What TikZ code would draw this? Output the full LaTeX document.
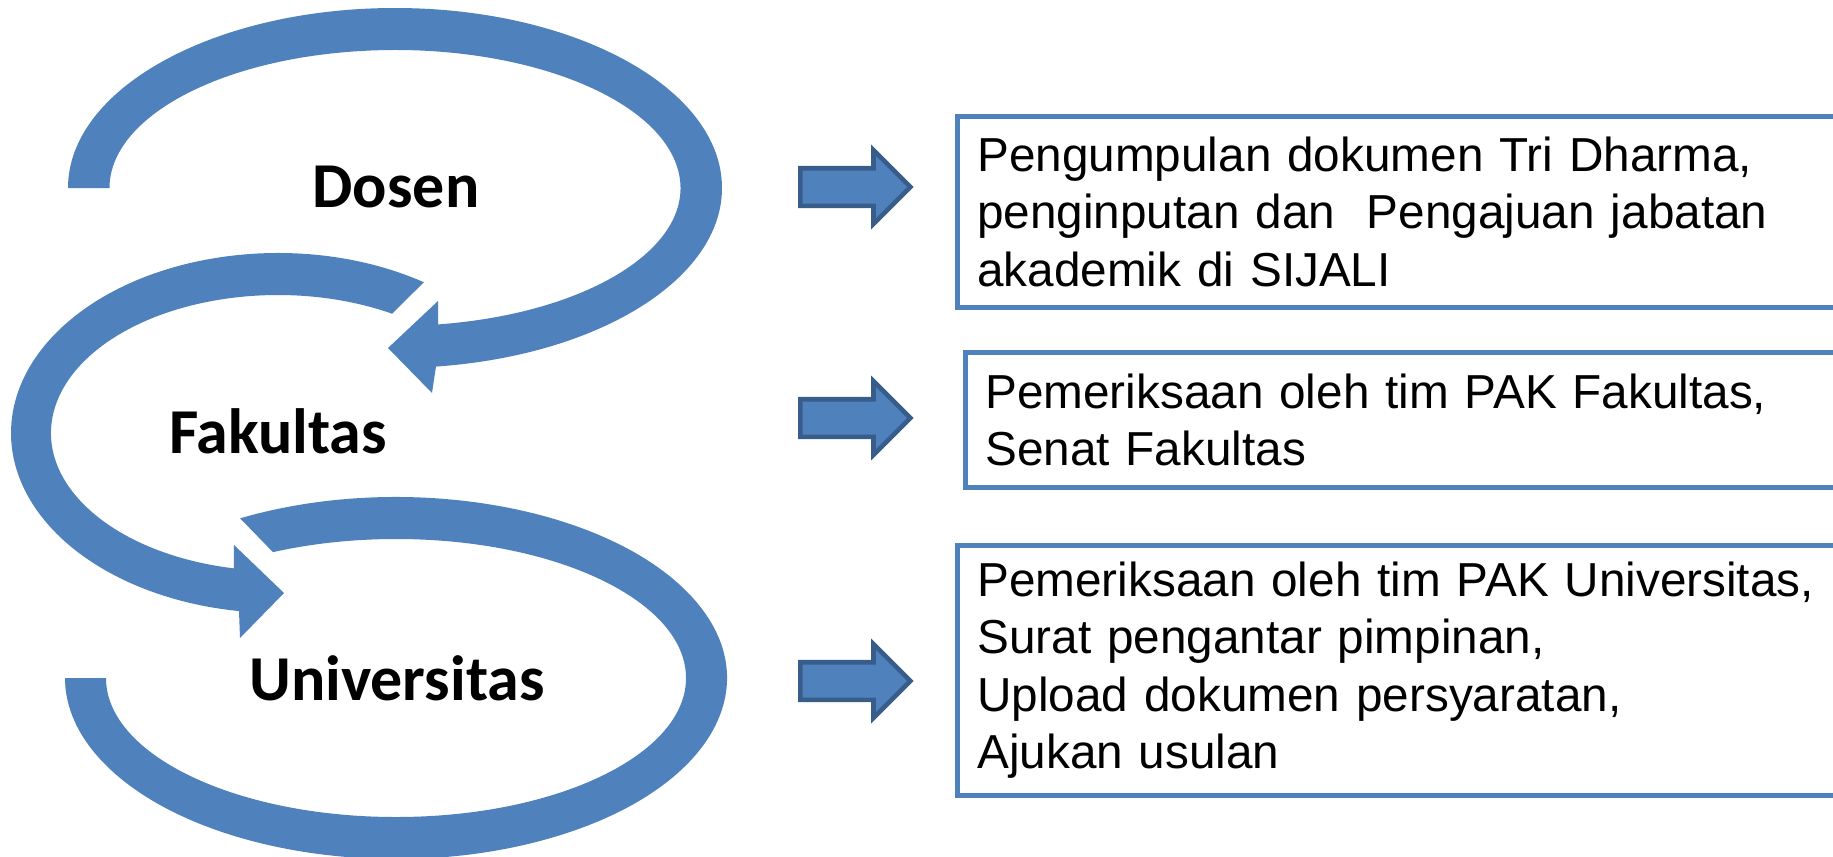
\documentclass[tikz,border=0pt]{standalone}
\usepackage{fontspec}
\setmainfont{Liberation Sans}
\newfontfamily\lblfont{Carlito}
\definecolor{blue1}{RGB}{79, 129, 189}
\definecolor{blue2}{RGB}{56, 93, 138}
\usetikzlibrary{shapes.arrows, calc}

\begin{document}
\begin{tikzpicture}[
    level/.style={font=\lblfont\bfseries\fontsize{18.2}{22}\selectfont, anchor=base, inner sep=0pt},
    band/.style={fill=blue1},
    fwd/.style={single arrow, draw=blue2, fill=blue1, line width=1.3pt, minimum height=1.1cm, minimum width=0.72cm,
      single arrow head extend=0.18cm, single arrow tip angle=90, inner xsep=0pt, inner ysep=0.165cm, anchor=tail},
    info/.style={draw=blue1, line width=1.3pt, anchor=north west, text width=8.65cm, align=left,
      inner xsep=0.2cm, font=\fontsize{13.57}{16.3}\selectfont}
  ]
  \clip (0,0) rectangle (18.33,8.56);

  % centres of the three loops
  \coordinate (cD) at (3.95,6.68);
  \coordinate (cF) at (2.78,4.23);
  \coordinate (cU) at (3.96,1.78);

  % loop round Dosen, ends in a head towards Fakultas
  \fill[band] ($(cD)+(180:3.27cm and 1.80cm)$)
    arc[start angle=180, end angle=-82.8, x radius=3.27, y radius=1.80]
    -- (4.32,4.63) -- (3.88,5.08) -- (4.38,5.55)
    -- ($(cD)+(-81.3:2.855cm and 1.38cm)$)
    arc[start angle=-81.3, end angle=180, x radius=2.855, y radius=1.38] -- cycle;

  % loop round Fakultas, ends in a head towards Universitas
  \fill[band] ($(cF)+(56.9:2.67cm and 1.80cm)$)
    arc[start angle=56.9, end angle=261.6, x radius=2.67, y radius=1.80]
    -- (2.40,2.18) -- (2.84,2.63) -- (2.34,3.11)
    -- ($(cF)+(258.8:2.27cm and 1.38cm)$)
    arc[start angle=258.8, end angle=59.8, x radius=2.27, y radius=1.38] -- cycle;

  % loop round Universitas
  \fill[band] ($(cU)+(118.1:3.31cm and 1.81cm)$)
    arc[start angle=118.1, end angle=-180, x radius=3.31, y radius=1.81]
    -- ($(cU)+(180:2.90cm and 1.39cm)$)
    arc[start angle=-180, end angle=115.1, x radius=2.90, y radius=1.39] -- cycle;

  \node[level] (dosen) at (3.96,6.49) {Dosen};
  \node[level] (fakultas) at (2.78,4.03) {Fakultas};
  \node[level] (universitas) at (3.97,1.56) {Universitas};

  \node[fwd] (arrD) at (7.98,6.69) {};
  \node[fwd] (arrF) at (7.98,4.38) {};
  \node[fwd] (arrU) at (7.98,1.75) {};

  \node[info, minimum height=1.91cm] (boxD) at (9.55,7.42) {
    Pengumpulan dokumen Tri Dharma,\\
    penginputan dan\ \ Pengajuan jabatan\\
    akademik di SIJALI
  };
  \node[info, minimum height=1.35cm] (boxF) at (9.63,5.06) {
    Pemeriksaan oleh tim PAK Fakultas,\\
    Senat Fakultas
  };
  \node[info, minimum height=2.50cm] (boxU) at (9.55,3.13) {
    Pemeriksaan oleh tim PAK Universitas,\\
    Surat pengantar pimpinan,\\
    Upload dokumen persyaratan,\\
    Ajukan usulan
  };
\end{tikzpicture}
\end{document}
